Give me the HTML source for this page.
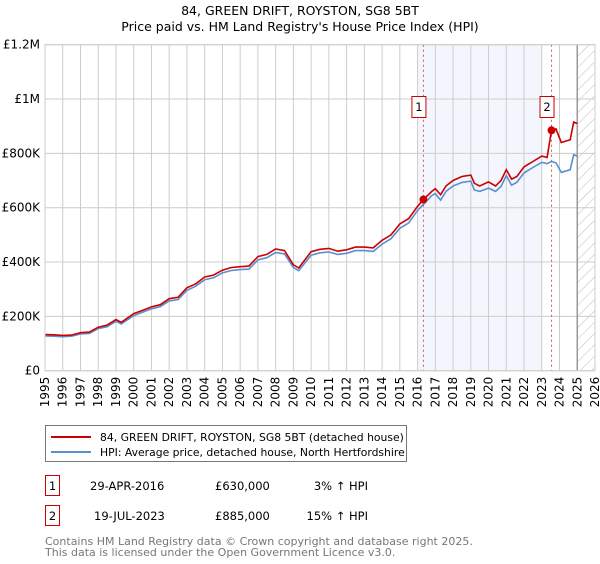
<!DOCTYPE html>
<html><head><meta charset="utf-8"><style>
body{margin:0;background:#fff;font-family:"DejaVu Sans","Liberation Sans",sans-serif}
</style></head><body>
<svg id="c" width="600" height="560" xmlns="http://www.w3.org/2000/svg" font-family="DejaVu Sans, Liberation Sans, sans-serif">
<text x="300" y="15" text-anchor="middle" font-size="12.5">84, GREEN DRIFT, ROYSTON, SG8 5BT</text>
<text x="300" y="31" text-anchor="middle" font-size="12.5">Price paid vs. HM Land Registry's House Price Index (HPI)</text>
<defs><pattern id="h" width="8" height="8" patternUnits="userSpaceOnUse" patternTransform="rotate(45)"><line x1="0" y1="0" x2="0" y2="8" stroke="#bbb" stroke-width="1"/></pattern></defs>
<g id="plot"></g>
<g>
<rect x="45.5" y="425.5" width="361" height="36" fill="#fff" stroke="#777"/>
<line x1="51" y1="437" x2="91" y2="437" stroke="#cc0000" stroke-width="2"/>
<text x="100" y="441" font-size="10.8">84, GREEN DRIFT, ROYSTON, SG8 5BT (detached house)</text>
<line x1="51" y1="452" x2="91" y2="452" stroke="#5b8fd0" stroke-width="2"/>
<text x="100" y="456" font-size="10.8">HPI: Average price, detached house, North Hertfordshire</text>
</g>
<g font-size="11.5">
<rect x="45.5" y="475.5" width="14" height="20" fill="#fff" stroke="#cc0000"/>
<text x="52.5" y="490" text-anchor="middle">1</text>
<text x="90" y="490">29-APR-2016</text><text x="215" y="490">£630,000</text><text x="368" y="490" text-anchor="end">3% ↑ HPI</text>
<rect x="45.5" y="505.5" width="14" height="20" fill="#fff" stroke="#cc0000"/>
<text x="52.5" y="520" text-anchor="middle">2</text>
<text x="94" y="520">19-JUL-2023</text><text x="215" y="520">£885,000</text><text x="368" y="520" text-anchor="end">15% ↑ HPI</text>
</g>
<text x="45" y="545" font-size="11" fill="#777">Contains HM Land Registry data © Crown copyright and database right 2025.</text>
<text x="45" y="556" font-size="11" fill="#777">This data is licensed under the Open Government Licence v3.0.</text>
</svg>
<script>
const yearTicks=[1995,1996,1997,1998,1999,2000,2001,2002,2003,2004,2005,2006,2007,2008,2009,2010,2011,2012,2013,2014,2015,2016,2017,2018,2019,2020,2021,2022,2023,2024,2025,2026];
const valueTicks=[0,200000,400000,600000,800000,1000000,1200000];
const valueTickLabels=["£0","£200K","£400K","£600K","£800K","£1M","£1.2M"];
const propYears=[1995,1995.5,1996,1996.5,1997,1997.5,1998,1998.5,1999,1999.3,2000,2000.5,2001,2001.5,2002,2002.5,2003,2003.5,2004,2004.5,2005,2005.5,2006,2006.5,2007,2007.5,2008,2008.5,2009,2009.3,2010,2010.5,2011,2011.5,2012,2012.5,2013,2013.5,2014,2014.5,2015,2015.5,2016,2016.33,2016.8,2017,2017.3,2017.6,2018,2018.5,2019,2019.2,2019.5,2020,2020.4,2020.7,2021,2021.3,2021.6,2022,2022.5,2023,2023.3,2023.55,2023.8,2024.1,2024.6,2024.8,2025];
const propValues=[133000,132000,130000,131000,140000,142000,160000,168000,188000,178000,210000,222000,235000,243000,265000,270000,305000,320000,345000,352000,370000,380000,383000,385000,420000,428000,448000,442000,390000,378000,438000,447000,450000,440000,445000,455000,455000,452000,480000,500000,540000,560000,605000,630000,660000,670000,648000,680000,700000,715000,720000,690000,680000,695000,680000,700000,740000,705000,715000,750000,770000,790000,785000,885000,890000,840000,850000,915000,910000];
const hpiYears=[1995,1995.5,1996,1996.5,1997,1997.5,1998,1998.5,1999,1999.3,2000,2000.5,2001,2001.5,2002,2002.5,2003,2003.5,2004,2004.5,2005,2005.5,2006,2006.5,2007,2007.5,2008,2008.5,2009,2009.3,2010,2010.5,2011,2011.5,2012,2012.5,2013,2013.5,2014,2014.5,2015,2015.5,2016,2016.33,2016.8,2017,2017.3,2017.6,2018,2018.5,2019,2019.2,2019.5,2020,2020.4,2020.7,2021,2021.3,2021.6,2022,2022.5,2023,2023.3,2023.55,2023.8,2024.1,2024.6,2024.8,2025];
const hpiValues=[128000,127000,125000,127000,135000,137000,155000,162000,182000,172000,203000,215000,228000,236000,257000,262000,296000,311000,335000,342000,360000,369000,372000,374000,408000,416000,435000,430000,380000,368000,425000,434000,437000,428000,432000,442000,442000,439000,466000,486000,524000,544000,590000,612000,645000,652000,628000,660000,680000,693000,698000,665000,660000,672000,660000,678000,718000,683000,694000,728000,748000,767000,762000,770000,765000,730000,740000,795000,790000];
const sales=[{n:"1",year:2016.33,value:630000},{n:"2",year:2023.55,value:885000}];
const X0=45,X1=595,Y0=370.7,Y1=44.7;
const x=y=>X0+(y-1995)/(2026-1995)*(X1-X0);
const y=v=>Y0-v/1200000*(Y0-Y1);
const g=document.getElementById('plot');const NS="http://www.w3.org/2000/svg";
function mk(t,a,p){const e=document.createElementNS(NS,t);for(const k in a)e.setAttribute(k,a[k]);(p||g).appendChild(e);return e;}
let r=mk('rect',{x:x(2016),y:Y1,width:x(2023)-x(2016),height:Y0-Y1,fill:'#eef3fc',opacity:0.7});

r=mk('rect',{x:x(2025),y:Y1,width:X1-x(2025),height:Y0-Y1,fill:'url(#h)'});

yearTicks.forEach(t=>{const l=mk('line',{x1:x(t),x2:x(t),y1:Y1,y2:Y0,stroke:'#ccc'});
const tx=mk('text',{x:0,y:0,'font-size':12,'text-anchor':'end',transform:`translate(${x(t)+4},${Y0+6}) rotate(-90)`});tx.textContent=t;});
valueTicks.forEach((v,i)=>{const l=mk('line',{x1:X0,x2:X1,y1:y(v),y2:y(v),stroke:'#ccc'});
const tx=mk('text',{x:X0-5,y:y(v)+4,'font-size':12,'text-anchor':'end'});tx.textContent=valueTickLabels[i];});
let vl=mk('line',{x1:x(2025),x2:x(2025),y1:Y1,y2:Y0,stroke:'#999','stroke-width':1.5});
sales.forEach(s=>{const l=mk('line',{x1:x(s.year),x2:x(s.year),y1:Y1,y2:Y0,stroke:'#e05050','stroke-dasharray':'2,3'});});
function path(xs,vs,c,n){const p=mk('path',{d:xs.map((t,i)=>(i?'L':'M')+x(t).toFixed(1)+','+y(vs[i]).toFixed(1)).join(''),fill:'none',stroke:c,'stroke-width':1.6});}
path(hpiYears,hpiValues,'#5b8fd0','hpi-line');
path(propYears,propValues,'#cc0000','property-price-line');
sales.forEach(s=>{const c=mk('circle',{cx:x(s.year),cy:y(s.value),r:4,fill:'#cc0000'});
const b=mk('rect',{x:x(s.year)-11.5,y:96.5,width:14,height:21,fill:'#fff',stroke:'#cc0000'});
const t=mk('text',{x:x(s.year)-4.5,y:111,'font-size':11.5,'text-anchor':'middle'});t.textContent=s.n;});
const ax=mk('rect',{x:X0,y:Y1,width:X1-X0,height:Y0-Y1,fill:'none',stroke:'#ccc'});
</script>
</body></html>
